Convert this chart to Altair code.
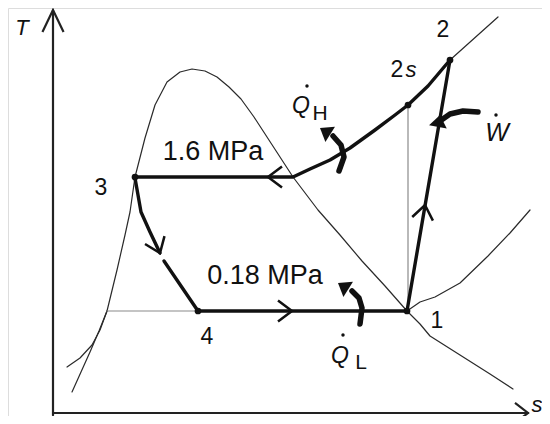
import altair as alt
import pandas as pd

# ---- diagram data (entropy s, temperature T in arbitrary diagram units) ----
# saturation dome, from the 0.18 MPa liquid point over the top to the vapour side
dome_s = [54, 64, 72, 77, 82, 92, 102, 114, 127, 139, 152, 164, 176, 188, 201, 214, 227, 240,
          265, 287, 309, 332, 354, 367, 377, 407, 437, 460]
dome_T = [102, 143, 178, 201, 236, 275, 308, 331, 341, 344, 342, 336, 326, 314, 296, 276, 256, 236,
          203, 178, 152, 127, 102, 89, 77, 58, 39, 24]
# saturated liquid line below 0.18 MPa
liquid_s = [54, 46, 37, 28, 19]
liquid_T = [102, 82, 61, 41, 21]
# compressed-liquid part of the isobar
subcool_s = [54, 47, 39, 27, 14]
subcool_T = [102, 83, 68, 55, 46]
# 0.18 MPa isobar in the superheated region
superheat_s = [354, 367, 382, 407, 435, 457, 477]
superheat_T = [102, 111, 116, 130, 157, 180, 203]
# 1.6 MPa isobar beyond state 2
hp_ext_s = [397, 445]
hp_ext_T = [353, 396]
# isentropic 1 -> 2s and liquid part at 0.18 MPa (grey)
isen_s = [355, 355]
isen_T = [308, 102]
grey_s = [54, 145]
grey_T = [102, 102]

# cycle processes
cond_s = [82, 240, 257, 277, 297, 322, 342, 355, 375, 397]
cond_T = [236, 236, 244, 253, 265, 283, 298, 308, 327, 353]
comp_s = [354, 397]
comp_T = [102, 353]
thr_a_s = [82, 85, 88, 97, 107]
thr_a_T = [235, 218, 201, 181, 160]
thr_b_s = [111, 145]
thr_b_T = [152, 102]
evap_s = [145, 354]
evap_T = [102, 102]

# heat / work arcs
qh_s = [286, 291, 288, 280]
qh_T = [242, 256, 268, 277]
ql_s = [307, 309, 306, 299]
ql_T = [89, 105, 115, 122]
w_s = [387, 397, 410, 425]
w_T = [292, 299, 302, 301]

# axes
t_axis_s = [0, 0]
t_axis_T = [-2, 403]
s_axis_s = [0, 475]
s_axis_T = [0, 0]

# state points
state_names = ["1", "2", "2s", "3", "4"]
state_s = [354, 397, 355, 82, 145]
state_T = [102, 353, 308, 236, 102]

# open arrowheads on the cycle (direction in screen degrees)
chev_s = [239, 215, 107, 372]
chev_T = [102, 236, 160, 208]
chev_angle = [0, 180, 68, 280]
# filled arrowheads of Q_H, Q_L and W
tri_s = [267, 285, 387]
tri_T = [285, 130, 298]
tri_angle = [212, 212, 280]

# labels
num_labels = ["2", "2", "3", "4", "1"]
num_s = [390, 344, 48, 154, 384]
num_T = [383, 343, 225, 76, 92]
mpa_labels = ["1.6 MPa", "0.18 MPa"]
mpa_s = [160, 212]
mpa_T = [261, 137]
ital_labels = ["T", "s", "s", "Q", "Q", "W"]
ital_s = [-31, 484, 358, 248, 287, 444]
ital_T = [385, 8, 343, 307, 57, 280]
ital_size = [22, 22, 22, 23, 23, 25]
sub_labels = ["H", "L"]
sub_s = [267, 308]
sub_T = [299, 50]
dot_s = [254, 290, 443]
dot_T = [327, 78, 298]


def frame(curves):
    rows = []
    for name, ss, tt in curves:
        for i, (a, b) in enumerate(zip(ss, tt)):
            rows.append({"curve": name, "i": i, "s": a, "T": b})
    return pd.DataFrame(rows)


xs = alt.Scale(domain=[-45, 489], nice=False, zero=False)
ys = alt.Scale(domain=[-3, 405], nice=False, zero=False)
X = alt.X("s:Q", scale=xs, axis=None)
Y = alt.Y("T:Q", scale=ys, axis=None)


def lines(curves, width, color):
    return alt.Chart(frame(curves)).mark_line(
        strokeWidth=width, color=color, strokeCap="round", strokeJoin="round"
    ).encode(x=X, y=Y, detail="curve:N", order="i:Q")


thin_dark = lines([("dome", dome_s, dome_T), ("liq", liquid_s, liquid_T),
                   ("sub", subcool_s, subcool_T), ("sup", superheat_s, superheat_T),
                   ("hpx", hp_ext_s, hp_ext_T)], 1.2, "#2a2a2a")
thin_grey = lines([("isen", isen_s, isen_T), ("grey", grey_s, grey_T)], 1.2, "#8a8a8a")
axes = lines([("ta", t_axis_s, t_axis_T), ("sa", s_axis_s, s_axis_T)], 2.2, "#222222")
cycle = lines([("cond", cond_s, cond_T), ("comp", comp_s, comp_T), ("ta", thr_a_s, thr_a_T),
               ("tb", thr_b_s, thr_b_T), ("evap", evap_s, evap_T)], 3.4, "#111111")
arcs = lines([("qh", qh_s, qh_T), ("ql", ql_s, ql_T), ("w", w_s, w_T)], 5.5, "#111111")

chev_df = pd.DataFrame({"s": chev_s, "T": chev_T, "angle": chev_angle})
chevrons = alt.Chart(chev_df).mark_point(
    shape="M-1,-0.75L0,0L-1,0.75", filled=False, size=784, strokeWidth=2.5,
    color="#111111", opacity=1
).encode(x=X, y=Y, angle=alt.Angle("angle:Q", scale=None))

tri_df = pd.DataFrame({"s": tri_s, "T": tri_T, "angle": tri_angle})
tris = alt.Chart(tri_df).mark_point(
    shape="M0,0L-1,-0.75L-1,0.75Z", filled=True, size=576, color="#111111", opacity=1
).encode(x=X, y=Y, angle=alt.Angle("angle:Q", scale=None))

t_arrow = alt.Chart(pd.DataFrame({"s": [t_axis_s[1]], "T": [t_axis_T[1]], "angle": [270]})).mark_point(
    shape="M-1,-0.48L0,0L-1,0.48", filled=False, size=1936, strokeWidth=2.2,
    color="#222222", opacity=1
).encode(x=X, y=Y, angle=alt.Angle("angle:Q", scale=None))
s_arrow = alt.Chart(pd.DataFrame({"s": [s_axis_s[1]], "T": [s_axis_T[1]], "angle": [0]})).mark_point(
    shape="M-1,-0.77L0,0L-1,0.77", filled=False, size=676, strokeWidth=2.2,
    color="#222222", opacity=1
).encode(x=X, y=Y, angle=alt.Angle("angle:Q", scale=None))

pts = alt.Chart(pd.DataFrame({"s": state_s, "T": state_T, "name": state_names})).mark_point(
    shape="circle", filled=True, size=45, color="#111111", opacity=1
).encode(x=X, y=Y)

FONT = "Liberation Sans"
nums = alt.Chart(pd.DataFrame({"s": num_s, "T": num_T, "t": num_labels})).mark_text(
    font=FONT, fontSize=23, color="#111111", baseline="middle", align="center"
).encode(x=X, y=Y, text="t:N")
mpa = alt.Chart(pd.DataFrame({"s": mpa_s, "T": mpa_T, "t": mpa_labels})).mark_text(
    font=FONT, fontSize=27, color="#111111", baseline="middle", align="center"
).encode(x=X, y=Y, text="t:N")
ital = alt.Chart(pd.DataFrame({"s": ital_s, "T": ital_T, "t": ital_labels, "fs": ital_size})).mark_text(
    font=FONT, fontStyle="italic", color="#111111", baseline="middle", align="center"
).encode(x=X, y=Y, text="t:N", size=alt.Size("fs:Q", scale=None))
subs = alt.Chart(pd.DataFrame({"s": sub_s, "T": sub_T, "t": sub_labels})).mark_text(
    font=FONT, fontSize=21, color="#111111", baseline="middle", align="center"
).encode(x=X, y=Y, text="t:N")
dots = alt.Chart(pd.DataFrame({"s": dot_s, "T": dot_T})).mark_point(
    shape="circle", filled=True, size=12, color="#111111", opacity=1
).encode(x=X, y=Y)

chart = alt.layer(
    thin_dark, thin_grey, axes, t_arrow, s_arrow, cycle, arcs, chevrons, tris, pts,
    nums, mpa, ital, subs, dots
).properties(
    width=534, height=408, padding=0, autosize=alt.AutoSizeParams(type="none")
).configure_view(stroke=None).configure(background="white")

chart.save("out.html", embed_options={"renderer": "svg", "actions": False})
